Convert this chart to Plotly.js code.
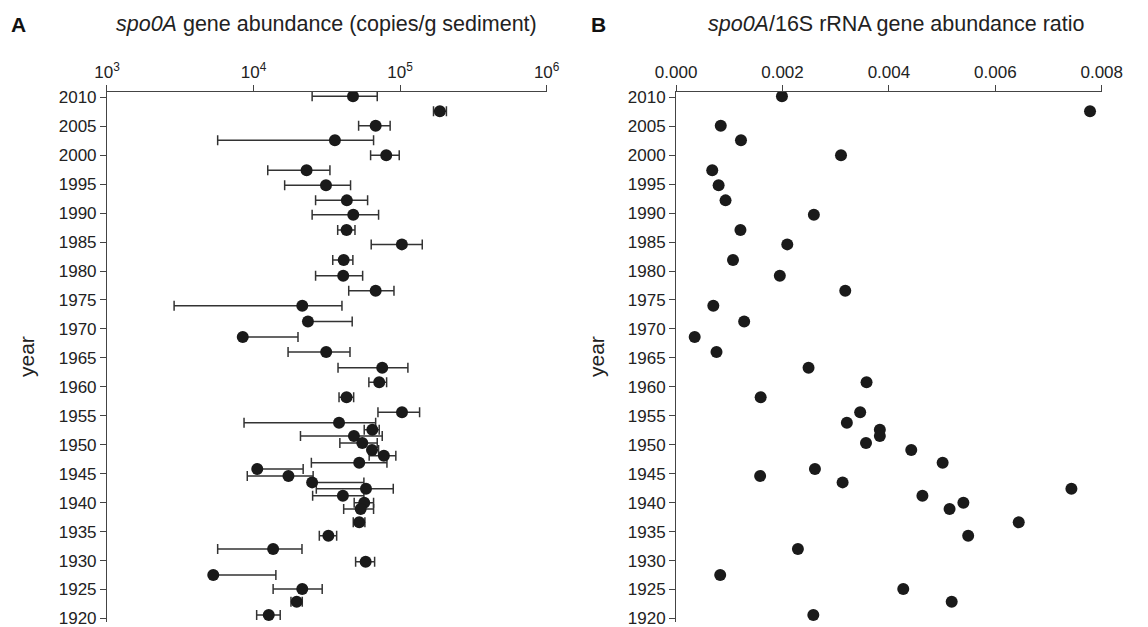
<!DOCTYPE html>
<html><head><meta charset="utf-8">
<script src="https://cdn.plot.ly/plotly-3.0.1.min.js"></script>
<style>html,body{margin:0;padding:0;background:#fff}#chart{width:1148px;height:627px}</style>
</head><body><div id="chart"></div>
<script>
const years = [2010.2, 2007.6, 2005.1, 2002.6, 2000.0, 1997.4, 1994.8, 1992.2, 1989.7, 1987.1, 1984.6, 1981.9, 1979.2, 1976.6, 1974.0, 1971.3, 1968.6, 1966.0, 1963.3, 1960.8, 1958.2, 1955.6, 1953.8, 1952.6, 1951.5, 1950.3, 1949.1, 1948.1, 1946.9, 1945.8, 1944.6, 1943.5, 1942.4, 1941.2, 1940.0, 1938.9, 1936.6, 1934.3, 1932.0, 1929.8, 1927.5, 1925.1, 1922.9, 1920.6];
const abundance = [47700, 186700, 68100, 35900, 80400, 23000, 31200, 43300, 47900, 43100, 102800, 41200, 40900, 68100, 21500, 23500, 8440, 31300, 75500, 72000, 43100, 103000, 38300, 64600, 48400, 55200, 64300, 77500, 52600, 10600, 17300, 25100, 58500, 40700, 56900, 53800, 52600, 32400, 13600, 58200, 5310, 21500, 19700, 12700];
const abundanceLow = [25100, 169000, 52100, 5690, 62900, 12500, 16300, 26500, 25100, 37500, 63500, 34700, 26500, 44600, 2870, 23500, 8440, 17200, 37700, 61200, 38300, 70600, 8610, 56900, 20900, 38800, 62200, 61500, 24800, 10600, 9060, 25100, 26800, 25300, 48600, 41200, 47900, 28100, 5690, 49700, 5310, 13600, 18000, 10500];
const abundanceHigh = [69800, 207000, 85500, 65900, 98600, 33200, 45900, 60000, 71300, 49200, 141600, 47600, 55500, 90800, 40100, 47100, 20100, 45500, 113000, 80900, 48200, 135800, 68100, 72000, 75500, 69800, 71300, 93500, 81300, 21800, 25500, 56600, 89800, 56600, 65900, 65900, 57500, 36900, 21400, 67000, 14200, 29400, 21500, 15200];
const ratio = [0.00199, 0.00778, 0.00084, 0.00122, 0.00310, 0.00068, 0.00080, 0.00093, 0.00259, 0.00121, 0.00209, 0.00107, 0.00195, 0.00318, 0.00070, 0.00128, 0.00035, 0.00076, 0.00249, 0.00358, 0.00159, 0.00346, 0.00321, 0.00383, 0.00383, 0.00357, 0.00442, null, 0.00501, 0.00261, 0.00158, 0.00313, 0.00743, 0.00463, 0.00540, 0.00514, 0.00644, 0.00549, 0.00229, null, 0.00083, 0.00427, 0.00518, 0.00258];
const yearTicks = [1920, 1925, 1930, 1935, 1940, 1945, 1950, 1955, 1960, 1965, 1970, 1975, 1980, 1985, 1990, 1995, 2000, 2005, 2010];
const abundanceTickVals = [1e3, 1e4, 1e5, 1e6];
const abundanceTickText = ['10<sup>3</sup>', '10<sup>4</sup>', '10<sup>5</sup>', '10<sup>6</sup>'];
const ratioTickVals = [0, 0.002, 0.004, 0.006, 0.008];
const ratioTickText = ['0.000', '0.002', '0.004', '0.006', '0.008'];

const errPlus = abundance.map((v, i) => abundanceHigh[i] - v);
const errMinus = abundance.map((v, i) => v - abundanceLow[i]);

const FONT = '"Liberation Sans", Arial, Helvetica, sans-serif';
const ink = '#1a1a1a';
const axisColor = '#444';
const tickFont = {family: FONT, size: 17, color: '#222'};
const H = 530, T = 92;
const py = px => 1 + (T - px) / H;   // pixel row -> paper y

const traces = [
  {
    type: 'scatter', mode: 'markers', x: abundance, y: years, xaxis: 'x', yaxis: 'y',
    marker: {size: 12, color: ink},
    error_x: {type: 'data', symmetric: false, array: errPlus, arrayminus: errMinus,
              color: '#333', thickness: 1.5, width: 5},
    hoverinfo: 'x+y'
  },
  {
    type: 'scatter', mode: 'markers', x: ratio, y: years, xaxis: 'x2', yaxis: 'y2',
    marker: {size: 12, color: ink},
    hoverinfo: 'x+y'
  }
];

const yBase = {
  domain: [0, 1], range: [1919.39, 2010.915], showline: true, linecolor: axisColor, linewidth: 1,
  ticks: 'outside', ticklen: 6, tickcolor: axisColor, tickvals: yearTicks,
  showgrid: false, zeroline: false, tickfont: tickFont, ticklabeloverflow: 'allow'
};

const layout = {
  width: 1148, height: 627,
  margin: {l: 0, r: 0, t: T, b: 5},
  paper_bgcolor: '#fff', plot_bgcolor: '#fff', showlegend: false,
  font: {family: FONT, color: '#222'},
  xaxis: {
    type: 'log', domain: [0.0932, 0.4762], range: [3, 6], side: 'top', anchor: 'y',
    showline: true, linecolor: axisColor, linewidth: 1, ticks: 'outside', ticklen: 6, tickcolor: axisColor,
    tickvals: abundanceTickVals, ticktext: abundanceTickText, showgrid: false, zeroline: false,
    tickfont: tickFont, ticklabeloverflow: 'allow'
  },
  yaxis: Object.assign({}, yBase, {anchor: 'x'}),
  xaxis2: {
    domain: [0.5889, 0.9597], range: [0, 0.008], side: 'top', anchor: 'y2',
    showline: true, linecolor: axisColor, linewidth: 1, ticks: 'outside', ticklen: 6, tickcolor: axisColor,
    tickvals: ratioTickVals, ticktext: ratioTickText, showgrid: false, zeroline: false,
    tickfont: tickFont, ticklabeloverflow: 'allow'
  },
  yaxis2: Object.assign({}, yBase, {anchor: 'x2'}),
  annotations: [
    {text: '<b>A</b>', xref: 'paper', yref: 'paper', x: 18 / 1148, y: py(25),
     xanchor: 'center', yanchor: 'middle', showarrow: false, font: {family: FONT, size: 21, color: '#111'}},
    {text: '<i>spo0A</i> gene abundance (copies/g sediment)', xref: 'paper', yref: 'paper',
     x: 326 / 1148, y: py(24), xanchor: 'center', yanchor: 'middle', showarrow: false,
     font: {family: FONT, size: 21.5, color: '#222'}},
    {text: '<b>B</b>', xref: 'paper', yref: 'paper', x: 598 / 1148, y: py(25),
     xanchor: 'center', yanchor: 'middle', showarrow: false, font: {family: FONT, size: 21, color: '#111'}},
    {text: '<i>spo0A</i>/16S rRNA gene abundance ratio', xref: 'paper', yref: 'paper',
     x: 896 / 1148, y: py(24), xanchor: 'center', yanchor: 'middle', showarrow: false,
     font: {family: FONT, size: 21.5, color: '#222'}},
    {text: 'year', xref: 'paper', yref: 'paper', x: 26 / 1148, y: py(357), textangle: -90,
     xanchor: 'center', yanchor: 'middle', showarrow: false, font: {family: FONT, size: 21, color: '#222'}},
    {text: 'year', xref: 'paper', yref: 'paper', x: 596 / 1148, y: py(357), textangle: -90,
     xanchor: 'center', yanchor: 'middle', showarrow: false, font: {family: FONT, size: 21, color: '#222'}}
  ]
};

Plotly.newPlot('chart', traces, layout, {displayModeBar: false, staticPlot: true});
</script>
</body></html>
